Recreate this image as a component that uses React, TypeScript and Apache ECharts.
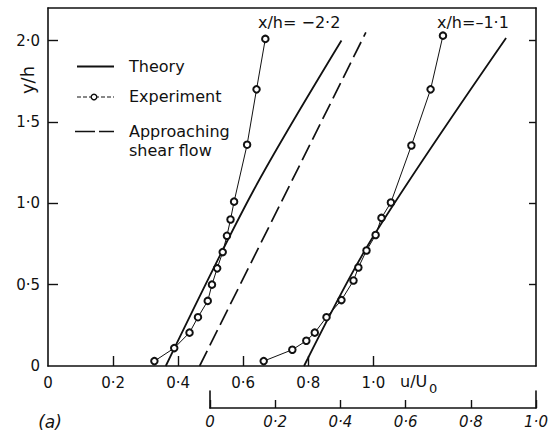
import React, { useEffect, useRef } from "react";
import * as echarts from "echarts";

// Experiment, x/h = -2.2
const expLeftU = [0.327, 0.388, 0.435, 0.461, 0.491, 0.504, 0.52, 0.537, 0.55, 0.561, 0.572, 0.612, 0.641, 0.668];
const expLeftY = [0.03, 0.11, 0.205, 0.30, 0.40, 0.50, 0.60, 0.70, 0.80, 0.90, 1.01, 1.36, 1.70, 2.01];
// Experiment, x/h = -1.1
const expRightU = [0.663, 0.751, 0.794, 0.82, 0.856, 0.902, 0.939, 0.954, 0.979, 1.007, 1.025, 1.054, 1.117, 1.176, 1.214];
const expRightY = [0.03, 0.10, 0.155, 0.205, 0.30, 0.405, 0.525, 0.605, 0.71, 0.805, 0.91, 1.005, 1.355, 1.70, 2.03];
// Theory
const theoryLeftU = [0.362, 0.632, 0.902];
const theoryLeftY = [0, 1.08, 2.0];
const theoryRightU = [0.787, 0.995, 1.408];
const theoryRightY = [0, 0.78, 2.015];
// Approaching shear flow
const approachU = [0.466, 0.977];
const approachY = [0, 2.05];

// Axis tick values
const xTickValues = [0.2, 0.4, 0.6, 0.8, 1.0];
const xLabelValues = [0, 0.2, 0.4, 0.6, 0.8, 1.0];
const yLabelValues = [0, 0.5, 1.0, 1.5, 2.0];
const yRightTicks = [0.5, 1.0, 1.5, 2.0];
const secLabelValues = [0, 0.2, 0.4, 0.6, 0.8, 1.0];

const zip = (a: number[], b: number[]) => a.map((v, i) => [v, b[i]]);
const fmt = (v: number) => (Math.abs(v) < 1e-9 ? "0" : v.toFixed(1).replace(".", "\u00b7"));
const inList = (list: number[], v: number) => list.some((x) => Math.abs(x - v) < 1e-6);

const FONT = "DejaVu Sans";
const INK = "#111";

export default function App() {
  const ref = useRef<HTMLDivElement>(null);
  useEffect(() => {
    if (!ref.current) return;
    const chart = echarts.init(ref.current, undefined, { renderer: "svg" });
    const expSeries = (data: number[][]) => ({
      type: "line",
      data,
      xAxisIndex: 0,
      yAxisIndex: 0,
      symbol: "emptyCircle",
      symbolSize: 6.5,
      showSymbol: true,
      showAllSymbol: true,
      lineStyle: { color: INK, width: 1 },
      itemStyle: { color: INK, borderColor: INK, borderWidth: 1.3 },
      z: 5,
    });
    const solidSeries = (data: number[][]) => ({
      type: "line",
      data,
      xAxisIndex: 0,
      yAxisIndex: 0,
      symbol: "none",
      smooth: 0.3,
      lineStyle: { color: INK, width: 1.8 },
      z: 3,
    });
    chart.setOption({
      animation: false,
      backgroundColor: "#fff",
      grid: [
        { left: 48, right: 15, top: 8, bottom: 68 },
        { left: 210, right: 15, top: 391, height: 17 },
      ],
      xAxis: [
        {
          gridIndex: 0,
          type: "value",
          min: 0,
          max: 1.5,
          position: "bottom",
          axisLine: { show: true, onZero: false, lineStyle: { color: INK, width: 1.6 } },
          axisTick: { show: true, inside: true, length: 10, customValues: xTickValues, lineStyle: { color: INK, width: 1.4 } },
          axisLabel: {
            show: true,
            customValues: xLabelValues,
            margin: 9,
            fontFamily: FONT,
            fontSize: 15,
            color: INK,
            formatter: (v: number) => (inList(xLabelValues, v) ? fmt(v) : ""),
          },
          splitLine: { show: false },
        },
        {
          gridIndex: 0,
          type: "value",
          min: 0,
          max: 1.5,
          position: "top",
          axisLine: { show: true, onZero: false, lineStyle: { color: INK, width: 1.6 } },
          axisTick: { show: false },
          axisLabel: { show: false },
          splitLine: { show: false },
        },
        {
          gridIndex: 1,
          type: "value",
          min: 0,
          max: 1.0,
          interval: 0.2,
          position: "bottom",
          axisLine: { show: true, onZero: false, lineStyle: { color: INK, width: 1.6 } },
          axisTick: { show: true, inside: true, length: 8, lineStyle: { color: INK, width: 1.4 } },
          axisLabel: {
            show: true,
            customValues: secLabelValues,
            margin: 6,
            fontFamily: FONT,
            fontSize: 15,
            fontStyle: "italic",
            color: INK,
            formatter: (v: number) => fmt(v),
          },
          splitLine: { show: false },
        },
      ],
      yAxis: [
        {
          gridIndex: 0,
          type: "value",
          min: 0,
          max: 2.2,
          position: "left",
          axisLine: { show: true, onZero: false, lineStyle: { color: INK, width: 1.6 } },
          axisTick: { show: true, inside: true, length: 10, customValues: yRightTicks, lineStyle: { color: INK, width: 1.4 } },
          axisLabel: {
            show: true,
            customValues: yLabelValues,
            margin: 8,
            fontFamily: FONT,
            fontSize: 15,
            color: INK,
            formatter: (v: number) => (inList(yLabelValues, v) ? fmt(v) : ""),
          },
          splitLine: { show: false },
        },
        {
          gridIndex: 0,
          type: "value",
          min: 0,
          max: 2.2,
          position: "right",
          axisLine: { show: true, onZero: false, lineStyle: { color: INK, width: 1.6 } },
          axisTick: { show: true, inside: true, length: 7, customValues: yRightTicks, lineStyle: { color: INK, width: 1.4 } },
          axisLabel: { show: false },
          splitLine: { show: false },
        },
        {
          gridIndex: 1,
          type: "value",
          min: 0,
          max: 1,
          position: "left",
          axisLine: { show: true, onZero: false, lineStyle: { color: INK, width: 1.6 } },
          axisTick: { show: false },
          axisLabel: { show: false },
          splitLine: { show: false },
        },
        {
          gridIndex: 1,
          type: "value",
          min: 0,
          max: 1,
          position: "right",
          axisLine: { show: true, onZero: false, lineStyle: { color: INK, width: 1.6 } },
          axisTick: { show: false },
          axisLabel: { show: false },
          splitLine: { show: false },
        },
      ],
      series: [
        { name: "Theory", ...solidSeries(zip(theoryLeftU, theoryLeftY)) },
        { name: "Theory", ...solidSeries(zip(theoryRightU, theoryRightY)) },
        {
          name: "Approaching shear flow",
          type: "line",
          data: zip(approachU, approachY),
          xAxisIndex: 0,
          yAxisIndex: 0,
          symbol: "none",
          lineStyle: { color: INK, width: 1.7, type: [17, 6] },
          z: 3,
        },
        { name: "Experiment", ...expSeries(zip(expLeftU, expLeftY)) },
        { name: "Experiment", ...expSeries(zip(expRightU, expRightY)) },
      ],
      graphic: [
        // legend
        { type: "line", shape: { x1: 77, y1: 66.5, x2: 114, y2: 66.5 }, style: { stroke: INK, lineWidth: 1.8 } },
        { type: "text", x: 129, y: 66, style: { text: "Theory", font: `16px "${FONT}"`, fill: INK, verticalAlign: "middle" } },
        { type: "line", shape: { x1: 77, y1: 97, x2: 114, y2: 97 }, style: { stroke: INK, lineWidth: 1, lineDash: [4, 2] } },
        { type: "circle", shape: { cx: 94, cy: 97, r: 2.8 }, style: { fill: "#fff", stroke: INK, lineWidth: 1.4 } },
        { type: "text", x: 129, y: 96.5, style: { text: "Experiment", font: `16px "${FONT}"`, fill: INK, verticalAlign: "middle" } },
        { type: "line", shape: { x1: 75, y1: 131.5, x2: 114, y2: 131.5 }, style: { stroke: INK, lineWidth: 1.7, lineDash: [20, 4] } },
        { type: "text", x: 129, y: 131.5, style: { text: "Approaching", font: `16px "${FONT}"`, fill: INK, verticalAlign: "middle" } },
        { type: "text", x: 129, y: 150, style: { text: "shear flow", font: `16px "${FONT}"`, fill: INK, verticalAlign: "middle" } },
        // curve labels
        { type: "text", x: 258, y: 22.5, style: { text: "x/h= \u22122\u00b72", font: `16px "${FONT}"`, fill: INK, verticalAlign: "middle" } },
        { type: "text", x: 437, y: 22.5, style: { text: "x/h=\u20131\u00b71", font: `16px "${FONT}"`, fill: INK, verticalAlign: "middle" } },
        // axis names
        { type: "text", x: 27.5, y: 80, rotation: Math.PI / 2, style: { text: "y/h", font: `18px "${FONT}"`, fill: INK, align: "center", verticalAlign: "middle" } },
        { type: "text", x: 400, y: 381, style: { text: "u/U", font: `16px "${FONT}"`, fill: INK, verticalAlign: "middle" } },
        { type: "text", x: 429, y: 388, style: { text: "0", font: `13px "${FONT}"`, fill: INK, verticalAlign: "middle" } },
        { type: "text", x: 50, y: 422, style: { text: "(a)", font: `italic 17px "${FONT}"`, fill: INK, align: "center", verticalAlign: "middle" } },
      ],
    });
    return () => chart.dispose();
  }, []);
  return <div ref={ref} style={{ position: "absolute", left: 0, top: 0, width: 551, height: 434 }} />;
}
